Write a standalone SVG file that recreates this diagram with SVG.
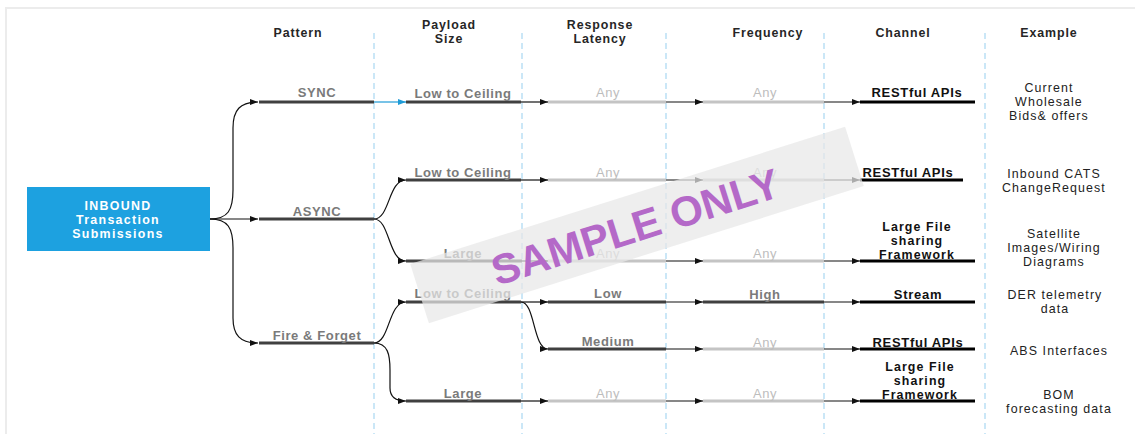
<svg xmlns="http://www.w3.org/2000/svg" width="1135" height="434" viewBox="0 0 1135 434">
<defs>
<marker id="ah" markerWidth="8" markerHeight="6" refX="8" refY="3" orient="auto" markerUnits="userSpaceOnUse"><path d="M0,0 L8,3 L0,6 z" fill="#111"/></marker>
<marker id="ahb" markerWidth="8" markerHeight="6" refX="8" refY="3" orient="auto" markerUnits="userSpaceOnUse"><path d="M0,0 L8,3 L0,6 z" fill="#1e9bd7"/></marker>
<style>
text{font-family:"Liberation Sans",Arial,sans-serif;text-anchor:middle}
.hd{font-size:12.4px;font-weight:700;fill:#262626;letter-spacing:0.9px}
.lb{font-size:13px;font-weight:700;fill:#7a7a7a;letter-spacing:0.6px}
.any{font-size:13px;fill:#bdbdbd;letter-spacing:0.6px}
.ch{font-size:13px;font-weight:700;fill:#111;letter-spacing:0.7px}
.chm{font-size:12.4px;font-weight:700;fill:#111;letter-spacing:1.1px}
.ex{font-size:12.4px;fill:#222;letter-spacing:1.1px}
.box{font-size:12.4px;font-weight:700;fill:#fff;letter-spacing:1.3px}
.thick{stroke:#404040;stroke-width:3;fill:none}
.light{stroke:#c4c4c4;stroke-width:3;fill:none}
.chl{stroke:#000;stroke-width:3;fill:none}
.con{stroke:#111;stroke-width:1.2;fill:none;marker-end:url(#ah)}
.dash{stroke:#a9d8f2;stroke-width:1.2;stroke-dasharray:6,4;fill:none}
</style>
</defs>
<rect x="0" y="0" width="1135" height="434" fill="#fff"/>
<rect x="6" y="8" width="1150" height="440" fill="none" stroke="#ececec" stroke-width="2"/>

<g id="grid">
<line class="dash" x1="374" y1="33" x2="374" y2="434"/>
<line class="dash" x1="522" y1="33" x2="522" y2="434"/>
<line class="dash" x1="666" y1="33" x2="666" y2="434"/>
<line class="dash" x1="824" y1="33" x2="824" y2="434"/>
<line class="dash" x1="985" y1="33" x2="985" y2="434"/>
</g>

<g id="headers">
<text class="hd" x="298" y="36.5">Pattern</text>
<text class="hd" x="449" y="29">Payload<tspan x="449" dy="14">Size</tspan></text>
<text class="hd" x="600" y="29">Response<tspan x="600" dy="14">Latency</tspan></text>
<text class="hd" x="768" y="36.5">Frequency</text>
<text class="hd" x="903" y="36.5">Channel</text>
<text class="hd" x="1049" y="36.5">Example</text>
</g>

<g id="connectors">
<path class="con" d="M210,219 C228,219 233,210 233,190 L233,128 C233,110 240,102 258,102"/>
<path class="con" d="M210,219 L258,219"/>
<path class="con" d="M210,219 C228,219 233,228 233,248 L233,318 C233,335 240,343 258,343"/>
<path d="M374,102 L406,102" stroke="#1e9bd7" stroke-width="1.2" fill="none" marker-end="url(#ahb)"/>
<path class="con" d="M374,219 C390,219 388,180 406,180"/>
<path class="con" d="M374,219 C390,219 388,261 406,261"/>
<path class="con" d="M374,343 C390,343 388,302 406,302"/>
<path class="con" d="M374,343 C388,343 390,355 390,370 L390,388 C390,396 395,401 406,401"/>
<path class="con" d="M521,102 L548,102"/>
<path class="con" d="M521,180 L548,180"/>
<path class="con" d="M522,261 L548,261"/>
<path class="con" d="M521,302 L548,302"/>
<path class="con" d="M521,302 C535,302 533,349 548,349"/>
<path class="con" d="M521,401 L548,401"/>
<path class="con" d="M666,102 L703,102"/>
<path class="con" d="M666,180 L703,180"/>
<path class="con" d="M666,261 L703,261"/>
<path class="con" d="M666,302 L703,302"/>
<path class="con" d="M666,349 L703,349"/>
<path class="con" d="M666,401 L703,401"/>
<path class="con" d="M824,102 L860,102"/>
<path class="con" d="M824,180 L860,180"/>
<path class="con" d="M824,261 L860,261"/>
<path class="con" d="M824,302 L860,302"/>
<path class="con" d="M824,349 L860,349"/>
<path class="con" d="M824,401 L860,401"/>
</g>

<g id="inbound">
<rect x="27" y="187" width="183" height="64" fill="#1da1e0"/>
<text class="box" x="118" y="209.5">INBOUND<tspan x="118" dy="14">Transaction</tspan><tspan x="118" dy="14">Submissions</tspan></text>
</g>

<g id="sync"><line class="thick" x1="259" y1="102" x2="374" y2="102"/><text class="lb" x="317" y="96.5">SYNC</text></g>
<g id="async"><line class="thick" x1="259" y1="219" x2="374" y2="219"/><text class="lb" x="317" y="215.5">ASYNC</text></g>
<g id="fireforget"><line class="thick" x1="259" y1="343" x2="374" y2="343"/><text class="lb" x="317" y="339.5">Fire &amp; Forget</text></g>

<g id="p1"><line class="thick" x1="406" y1="102" x2="521" y2="102"/><text class="lb" x="463" y="97.5">Low to Ceiling</text></g>
<g id="p2"><line class="thick" x1="406" y1="180" x2="521" y2="180"/><text class="lb" x="463" y="176.5">Low to Ceiling</text></g>
<g id="p3"><line class="thick" x1="406" y1="261" x2="522" y2="261"/><text class="lb" x="463" y="257.5">Large</text></g>
<g id="p4"><line class="thick" x1="406" y1="302" x2="521" y2="302"/><text class="lb" x="463" y="297.5">Low to Ceiling</text></g>
<g id="p6"><line class="thick" x1="406" y1="401" x2="521" y2="401"/><text class="lb" x="463" y="397.5">Large</text></g>

<g id="l1"><line class="light" x1="548" y1="102" x2="666" y2="102"/><text class="any" x="608" y="96.5">Any</text></g>
<g id="l2"><line class="light" x1="548" y1="180" x2="666" y2="180"/><text class="any" x="608" y="176.5">Any</text></g>
<g id="l3"><line class="light" x1="548" y1="261" x2="666" y2="261"/><text class="any" x="608" y="257.5">Any</text></g>
<g id="l4"><line class="thick" x1="548" y1="302" x2="666" y2="302"/><text class="lb" x="608" y="297.5">Low</text></g>
<g id="l5"><line class="thick" x1="548" y1="349" x2="666" y2="349"/><text class="lb" x="608" y="345.5">Medium</text></g>
<g id="l6"><line class="light" x1="548" y1="401" x2="666" y2="401"/><text class="any" x="608" y="397.5">Any</text></g>

<g id="f1"><line class="light" x1="703" y1="102" x2="824" y2="102"/><text class="any" x="765" y="96.5">Any</text></g>
<g id="f2"><line class="light" x1="703" y1="180" x2="824" y2="180"/><text class="any" x="765" y="176.5">Any</text></g>
<g id="f3"><line class="light" x1="703" y1="261" x2="824" y2="261"/><text class="any" x="765" y="257.5">Any</text></g>
<g id="f4"><line class="thick" x1="703" y1="302" x2="824" y2="302"/><text class="lb" x="765" y="298.5">High</text></g>
<g id="f5"><line class="light" x1="703" y1="349" x2="824" y2="349"/><text class="any" x="765" y="346.5">Any</text></g>
<g id="f6"><line class="light" x1="703" y1="401" x2="824" y2="401"/><text class="any" x="765" y="397.5">Any</text></g>

<g id="c1"><line class="chl" x1="860" y1="102" x2="975" y2="102"/><text class="ch" x="917" y="96.5">RESTful APIs</text></g>
<g id="c2"><line class="chl" x1="860" y1="180" x2="963" y2="180"/><text class="ch" x="908" y="176.5">RESTful APIs</text></g>
<g id="c3"><line class="chl" x1="860" y1="261" x2="975" y2="261"/><text class="chm" x="917" y="230.5">Large File<tspan x="917" dy="14">sharing</tspan><tspan x="917" dy="14">Framework</tspan></text></g>
<g id="c4"><line class="chl" x1="860" y1="302" x2="975" y2="302"/><text class="ch" x="918" y="298.5">Stream</text></g>
<g id="c5"><line class="chl" x1="860" y1="349" x2="975" y2="349"/><text class="ch" x="918" y="346.5">RESTful APIs</text></g>
<g id="c6"><line class="chl" x1="860" y1="401" x2="975" y2="401"/><text class="chm" x="920" y="370.5">Large File<tspan x="920" dy="14">sharing</tspan><tspan x="920" dy="14">Framework</tspan></text></g>

<g id="e1"><text class="ex" x="1049" y="91.5">Current<tspan x="1049" dy="14">Wholesale</tspan><tspan x="1049" dy="14">Bids&amp; offers</tspan></text></g>
<g id="e2"><text class="ex" x="1054" y="177.5">Inbound CATS<tspan x="1054" dy="14">ChangeRequest</tspan></text></g>
<g id="e3"><text class="ex" x="1054" y="237.5">Satellite<tspan x="1054" dy="14">Images/Wiring</tspan><tspan x="1054" dy="14">Diagrams</tspan></text></g>
<g id="e4"><text class="ex" x="1055" y="299">DER telemetry<tspan x="1055" dy="14">data</tspan></text></g>
<g id="e5"><text class="ex" x="1059" y="354.5">ABS Interfaces</text></g>
<g id="e6"><text class="ex" x="1059" y="399">BOM<tspan x="1059" dy="14">forecasting data</tspan></text></g>

<g id="watermark" transform="translate(637,225) rotate(-17.5)">
<rect x="-228" y="-31" width="456" height="62" fill="#e8e8e8" opacity="0.72"/>
<text x="-2" y="16" style="font-family:'Liberation Sans',Arial,sans-serif;font-size:42px;font-weight:700;fill:#b469c8;letter-spacing:0">SAMPLE ONLY</text>
</g>
</svg>
